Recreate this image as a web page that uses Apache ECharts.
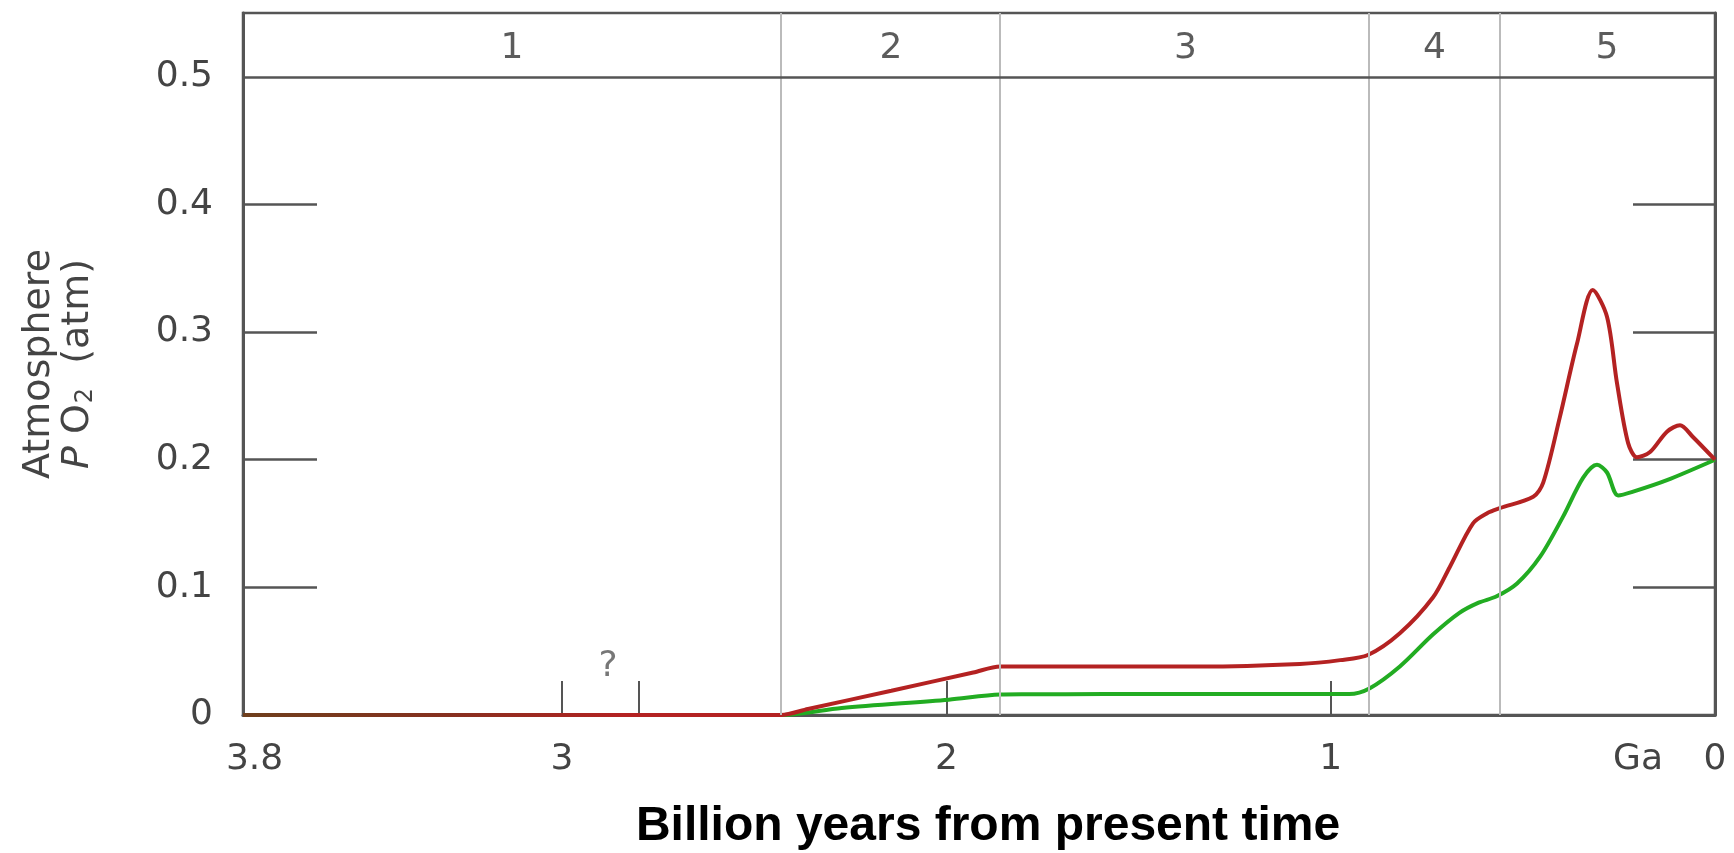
<!DOCTYPE html>
<html>
<head>
<meta charset="utf-8">
<script src="https://cdn.jsdelivr.net/npm/echarts@6/dist/echarts.min.js"></script>
<style>
  html, body { margin: 0; padding: 0; background: #fff; }
  #chart { width: 1734px; height: 853px; }
</style>
</head>
<body>
<div id="chart"></div>
<script>
// Partial pressure of atmospheric O2 over Earth history (billion years before present)
const xTickLabels = [3.8, 3, 2, 1, 0];
const xTickMarks = [3, 2.80, 2, 1];
const yTickLabels = [0, 0.1, 0.2, 0.3, 0.4, 0.5];
const yTickMarks = [0.1, 0.2, 0.3, 0.4];

// stage boundaries in Ga (outer two are the ends of the time axis)
const eraBounds = [3.83, 2.43, 1.858, 0.898, 0.562, 0];
const eraLabels = ['1', '2', '3', '4', '5'];

// upper estimate (red), [Ga, atm]
const upperO2 = [
  [3.83, 0], [2.5, 0], [2.43, 0], [2.36, 0.0047], [2.143, 0.019], [1.93, 0.0333],
  [1.86, 0.038], [1.79, 0.038], [1.588, 0.038], [1.339, 0.038], [1.080, 0.040],
  [0.975, 0.043], [0.903, 0.047], [0.820, 0.064], [0.734, 0.092], [0.690, 0.116],
  [0.630, 0.150], [0.593, 0.158], [0.560, 0.162], [0.473, 0.171], [0.447, 0.182],
  [0.404, 0.233], [0.359, 0.291], [0.318, 0.333], [0.281, 0.312], [0.255, 0.260],
  [0.226, 0.213], [0.203, 0.202], [0.169, 0.206], [0.125, 0.222], [0.091, 0.227],
  [0.058, 0.218], [0, 0.2]
];

// lower estimate (green), [Ga, atm]
const lowerO2 = [
  [3.83, 0], [2.5, 0], [2.43, 0], [2.272, 0.0055], [1.994, 0.012], [1.86, 0.016],
  [1.79, 0.0162], [1.588, 0.0164], [1.339, 0.0164], [0.952, 0.0164], [0.898, 0.021],
  [0.820, 0.038], [0.734, 0.063], [0.665, 0.080], [0.615, 0.088], [0.568, 0.093],
  [0.515, 0.103], [0.455, 0.124], [0.396, 0.155], [0.343, 0.186], [0.307, 0.196],
  [0.281, 0.190], [0.252, 0.172], [0.213, 0.175], [0.125, 0.184], [0, 0.2]
];

// uncertain interval marker near 2.9 Ga
const uncertainMark = [[2.88, 0.038, '?']];
const eraLabelLevel = 0.522;

const FONT = '"DejaVu Sans", "Noto Sans", sans-serif';
const INK = '#444';
const FRAME = '#555';
const TICK_FS = 36;
const RED = '#b42222';

const eraMarks = eraLabels.map((t, i) => [(eraBounds[i] + eraBounds[i + 1]) / 2, eraLabelLevel, t]);

const chart = echarts.init(document.getElementById('chart'), null, { renderer: 'canvas' });

chart.setOption({
  animation: false,
  backgroundColor: '#fff',
  grid: {
    left: 243, right: 19, top: 13, bottom: 138,
    outerBoundsMode: 'none',
    containLabel: false,
    show: true, borderColor: FRAME, borderWidth: 2.5
  },
  xAxis: {
    type: 'value',
    inverse: true,
    min: 0,
    max: eraBounds[0],
    name: 'Billion years from present time',
    nameLocation: 'middle',
    nameGap: 88,
    nameTextStyle: {
      fontFamily: '"Liberation Sans", Arial, sans-serif',
      fontWeight: 'bold', fontSize: 48, color: '#000',
      padding: [0, 0, 0, 18]
    },
    axisLine: { show: true, onZero: false, lineStyle: { color: FRAME, width: 3 } },
    axisTick: {
      show: true, inside: true, length: 34,
      customValues: xTickMarks,
      lineStyle: { color: FRAME, width: 2 }
    },
    axisLabel: {
      show: true, margin: 27,
      customValues: xTickLabels,
      fontFamily: FONT, fontSize: TICK_FS, color: INK,
      formatter: v => v === 0 ? '{ga|Ga}{z|0}{pad|}' : String(v),
      rich: {
        ga: { width: 91, align: 'left', fontFamily: FONT, fontSize: TICK_FS, color: INK },
        z: { width: 22, align: 'center', fontFamily: FONT, fontSize: TICK_FS, color: INK },
        pad: { width: 91 }
      }
    },
    splitLine: { show: false }
  },
  yAxis: [
    {
      type: 'value',
      position: 'left',
      min: 0,
      max: 0.55,
      name: '{a|Atmosphere}\n{i|P} {a|O}{s|2}{a|  (atm)}',
      nameLocation: 'middle',
      nameRotate: 90,
      nameGap: 145,
      nameTextStyle: {
        fontFamily: FONT, fontSize: 38, color: INK, lineHeight: 39,
        rich: {
          a: { fontFamily: FONT, fontSize: 38, color: INK, lineHeight: 39 },
          i: { fontFamily: FONT, fontSize: 38, color: INK, lineHeight: 39, fontStyle: 'italic' },
          s: { fontFamily: FONT, fontSize: 24, color: INK, lineHeight: 39, verticalAlign: 'bottom', padding: [0, 0, 0, 1] }
        }
      },
      axisLine: { show: true, onZero: false, lineStyle: { color: FRAME, width: 3 } },
      axisTick: {
        show: true, inside: true, length: 74,
        customValues: yTickMarks,
        lineStyle: { color: FRAME, width: 2.5 }
      },
      axisLabel: {
        show: true, margin: 30,
        customValues: yTickLabels,
        fontFamily: FONT, fontSize: TICK_FS, color: INK,
        formatter: v => v === 0 ? '0' : v.toFixed(1)
      },
      splitLine: { show: false }
    },
    {
      type: 'value',
      position: 'right',
      min: 0,
      max: 0.55,
      axisLine: { show: true, onZero: false, lineStyle: { color: FRAME, width: 3 } },
      axisTick: {
        show: true, inside: true, length: 82,
        customValues: yTickMarks,
        lineStyle: { color: FRAME, width: 2.5 }
      },
      axisLabel: { show: false },
      splitLine: { show: false }
    }
  ],
  series: [
    {
      // stage dividers and the header rule
      type: 'line',
      data: [],
      z: 1,
      silent: true,
      markLine: {
        silent: true,
        symbol: 'none',
        label: { show: false },
        animation: false,
        data: [
          ...eraBounds.slice(1, -1).map(v => ({ xAxis: v, lineStyle: { color: '#bbb', width: 2, type: 'solid' } })),
          { yAxis: 0.5, lineStyle: { color: FRAME, width: 2.5, type: 'solid' } }
        ]
      }
    },
    {
      name: 'lower',
      type: 'line',
      data: lowerO2,
      z: 3,
      showSymbol: false,
      smooth: 0.3,
      lineStyle: { color: '#22ac22', width: 4 }
    },
    {
      name: 'upper',
      type: 'line',
      data: upperO2,
      z: 4,
      showSymbol: false,
      smooth: 0.3,
      // both estimates coincide in the early Archean; the trace darkens there
      lineStyle: {
        width: 4,
        color: new echarts.graphic.LinearGradient(0, 0, 1, 0, [
          { offset: 0, color: '#6e3f1c' },
          { offset: 0.14, color: '#86301f' },
          { offset: 0.26, color: RED },
          { offset: 1, color: RED }
        ])
      }
    },
    {
      // stage numbers in the header band
      type: 'scatter',
      data: eraMarks,
      symbolSize: 0,
      silent: true,
      z: 5,
      label: {
        show: true, position: 'inside',
        formatter: p => p.data[2],
        fontFamily: FONT, fontSize: TICK_FS, color: '#333'
      }
    },
    {
      type: 'scatter',
      data: uncertainMark,
      symbolSize: 0,
      silent: true,
      z: 5,
      label: {
        show: true, position: 'inside',
        formatter: p => p.data[2],
        fontFamily: FONT, fontSize: TICK_FS, color: '#555'
      }
    }
  ]
});
</script>
</body>
</html>
